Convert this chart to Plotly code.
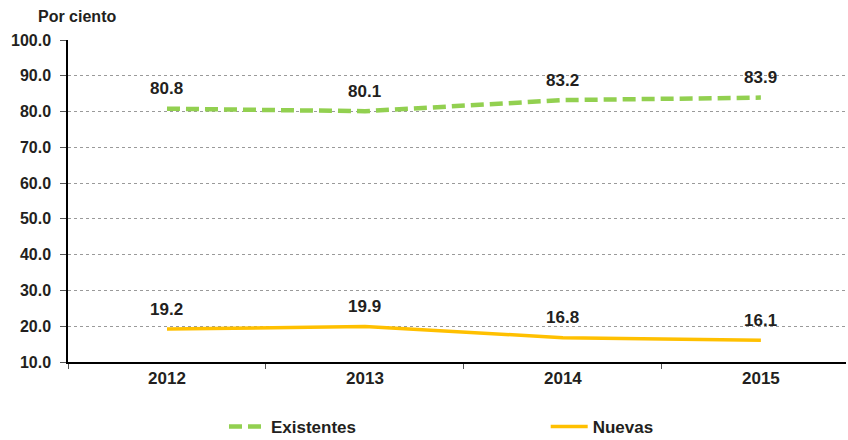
import plotly.graph_objects as go

years = ["2012", "2013", "2014", "2015"]
existentes = [80.8, 80.1, 83.2, 83.9]
nuevas = [19.2, 19.9, 16.8, 16.1]
y_ticks = [10, 20, 30, 40, 50, 60, 70, 80, 90, 100]

FONT = "Liberation Sans, Arial, sans-serif"
TXT = "#231f20"

fig = go.Figure()
fig.add_trace(go.Scatter(
    x=years, y=existentes, mode="lines", name="Existentes", legend="legend",
    line=dict(color="#92D050", width=4.5, dash="13px,6px"),
))
fig.add_trace(go.Scatter(
    x=years, y=nuevas, mode="lines", name="Nuevas", legend="legend2",
    line=dict(color="#FFC000", width=3.5),
))

for series in (existentes, nuevas):
    for i, yv in enumerate(series):
        fig.add_annotation(
            x=i, y=yv, xref="x", yref="y", text=f"{yv:.1f}", showarrow=False,
            yshift=20, font=dict(family=FONT, size=17, color=TXT, weight="bold"),
        )

fig.add_annotation(
    xref="paper", yref="paper", x=-0.041, y=1.0, yshift=13,
    xanchor="left", yanchor="bottom", showarrow=False,
    text="Por ciento", font=dict(family=FONT, size=16, color=TXT, weight="bold"),
)

legend_common = dict(
    orientation="h", yref="container", yanchor="middle", y=0.0295, xanchor="left",
    font=dict(family=FONT, size=17, color=TXT, weight="bold"),
    bgcolor="rgba(0,0,0,0)", itemwidth=37,
)

fig.update_layout(
    width=848, height=440,
    margin=dict(l=68, r=2, t=40, b=78),
    plot_bgcolor="white", paper_bgcolor="white",
    showlegend=True,
    legend=dict(x=0.2005, **legend_common),
    legend2=dict(x=0.614, **legend_common),
    font=dict(family=FONT, color=TXT),
)
fig.update_xaxes(
    type="category", range=[-0.5, 3.43],
    showline=True, linecolor="black", linewidth=1.5,
    ticks="outside", tickson="boundaries", ticklen=5, tickcolor="#555",
    showgrid=False, automargin=False,
    tickfont=dict(family=FONT, size=17, color=TXT, weight="bold"),
)
fig.update_yaxes(
    range=[10, 100], tickvals=y_ticks, tickformat=".1f",
    showline=True, linecolor="black", linewidth=1.5,
    ticks="outside", ticklen=6, tickcolor="#555", ticklabelstandoff=6,
    showgrid=True, gridcolor="#9a9a9a", griddash="dot", gridwidth=1,
    tickfont=dict(family=FONT, size=16, color=TXT, weight="bold"),
    zeroline=False, automargin=False,
)

fig.write_html(
    "out.html",
    config={"displayModeBar": False},
    post_script="document.body.style.margin='0';document.body.style.overflow='hidden';",
)
